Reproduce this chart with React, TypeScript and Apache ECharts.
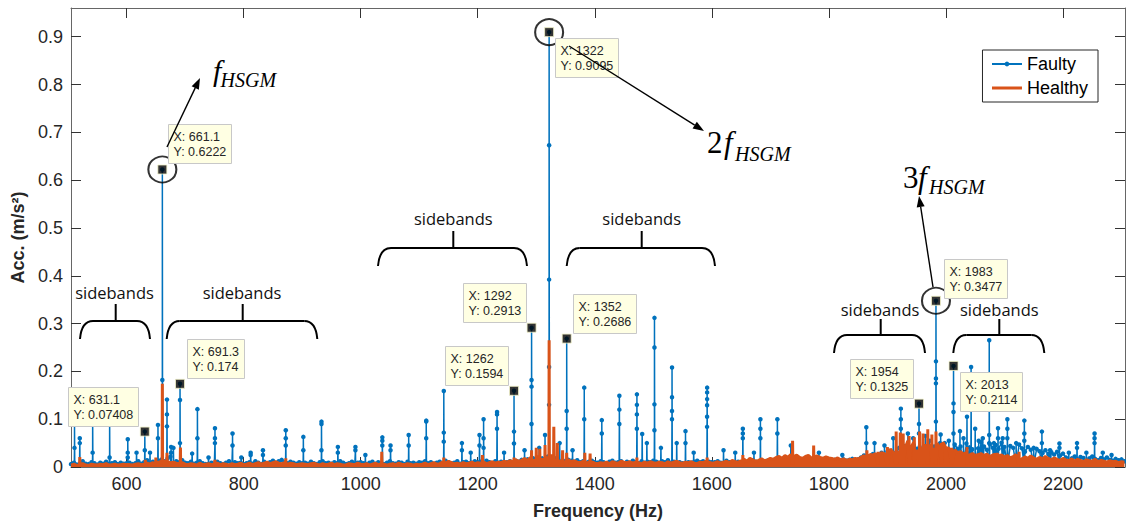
import React, { useEffect, useRef } from "react";
import * as echarts from "echarts";

const SANS = '"Liberation Sans", Arial, Helvetica, sans-serif';
const SERIF = '"Liberation Serif", "Times New Roman", serif';
const OPEN = '"Open Sans", "Liberation Sans", sans-serif';
const FAULTY = "#0072BD";
const HEALTHY = "#D95319";

const xMin = 505;
const xMax = 2306;
const yMin = 0;
const yMax = 0.96;
const xTicks = [600, 800, 1000, 1200, 1400, 1600, 1800, 2000, 2200];
const yTicks = [0, 0.1, 0.2, 0.3, 0.4, 0.5, 0.6, 0.7, 0.8, 0.9];
const seriesNames = ["Faulty", "Healthy"];

// noise floor, one value every 5 Hz from 505 Hz, in thousandths of m/s^2
const floorStartHz = 505;
const floorStepHz = 5;
const faultyFloor = [
  6, 9, 5, 8, 12, 7, 6, 10, 8, 5, 9, 7, 11, 6, 8, 10, 6, 9, 7, 8,
  9, 6, 8, 12, 7, 10, 14, 9, 11, 8, 13, 16, 12, 18, 22, 15, 12, 10, 14, 9,
  8, 11, 7, 9, 12, 8, 6, 10, 9, 7, 11, 8, 6, 9, 12, 7, 10, 8, 9, 6,
  8, 10, 7, 12, 9, 6, 11, 8, 10, 13, 9, 12, 15, 10, 8, 11, 9, 7, 10, 8,
  9, 7, 11, 8, 6, 10, 12, 8, 9, 7, 10, 8, 12, 9, 6, 8, 11, 7, 9, 10,
  8, 6, 9, 11, 7, 10, 8, 6, 9, 12, 8, 7, 10, 9, 6, 11, 8, 9, 7, 10,
  9, 12, 8, 10, 7, 9, 11, 8, 13, 10, 8, 9, 12, 7, 10, 11, 8, 9, 12, 10,
  11, 9, 13, 10, 8, 12, 9, 11, 14, 10, 12, 9, 13, 11, 15, 12, 16, 14, 18, 15,
  20, 18, 24, 22, 17, 15, 19, 16, 14, 12, 15, 13, 11, 14, 10, 12, 9, 11, 13, 10,
  9, 12, 10, 8, 11, 13, 9, 10, 12, 8, 11, 9, 13, 10, 8, 12, 9, 11, 10, 13,
  11, 9, 12, 10, 14, 9, 11, 13, 10, 8, 12, 10, 9, 11, 13, 10, 12, 9, 11, 10,
  10, 12, 9, 11, 13, 10, 8, 12, 11, 9, 13, 10, 12, 14, 11, 9, 12, 10, 13, 11,
  14, 12, 15, 13, 11, 14, 16, 12, 13, 15, 14, 12, 11, 14, 13, 15, 12, 14, 13, 11,
  13, 15, 12, 14, 16, 13, 15, 17, 14, 16, 20, 24, 19, 22, 27, 21, 25, 30, 26, 32,
  29, 35, 31, 40, 33, 44, 37, 32, 46, 38, 42, 35, 48, 40, 34, 43, 37, 50, 39, 36,
  40, 34, 47, 38, 43, 32, 49, 41, 37, 45, 39, 52, 43, 36, 48, 40, 46, 38, 51, 42,
  37, 44, 40, 35, 47, 39, 32, 42, 36, 30, 38, 33, 29, 35, 27, 31, 26, 32, 24, 28,
  20, 24, 18, 22, 16, 21, 19, 15, 18, 22, 17, 14, 19, 16, 20, 15, 13, 17, 14, 16,
  12,
];
const healthyFloor = [
  4, 6, 3, 5, 7, 4, 3, 6, 5, 4, 6, 5, 7, 4, 5, 6, 4, 5, 6, 5,
  5, 4, 6, 7, 5, 6, 8, 6, 9, 7, 10, 12, 14, 11, 9, 10, 8, 7, 9, 6,
  5, 7, 6, 4, 8, 5, 6, 7, 5, 6, 8, 5, 7, 6, 4, 7, 5, 6, 8, 5,
  6, 8, 5, 7, 9, 6, 8, 10, 7, 9, 11, 8, 7, 9, 6, 8, 7, 5, 6, 7,
  6, 5, 7, 8, 6, 4, 7, 5, 6, 8, 5, 7, 6, 4, 5, 7, 6, 5, 8, 6,
  5, 7, 4, 6, 8, 5, 7, 6, 4, 6, 7, 5, 8, 6, 5, 7, 6, 4, 6, 5,
  6, 8, 5, 7, 9, 6, 7, 10, 8, 12, 9, 7, 8, 6, 9, 7, 8, 10, 7, 9,
  8, 10, 7, 9, 11, 8, 10, 9, 12, 10, 13, 11, 15, 12, 14, 18, 13, 20, 16, 22,
  24, 18, 28, 22, 26, 20, 16, 14, 18, 12, 15, 11, 13, 10, 9, 12, 8, 10, 11, 8,
  7, 9, 8, 10, 7, 11, 9, 8, 12, 10, 9, 11, 8, 10, 9, 7, 10, 8, 11, 9,
  8, 10, 9, 7, 11, 8, 10, 12, 9, 8, 10, 9, 11, 8, 7, 10, 9, 12, 10, 8,
  9, 11, 8, 10, 12, 9, 14, 11, 10, 13, 16, 12, 18, 15, 12, 14, 17, 13, 15, 18,
  16, 20, 22, 18, 24, 20, 26, 22, 25, 20, 18, 22, 24, 19, 21, 23, 20, 18, 21, 19,
  18, 16, 19, 15, 17, 14, 16, 15, 18, 17, 20, 24, 22, 26, 25, 28, 24, 30, 28, 34,
  38, 30, 45, 34, 50, 38, 55, 40, 52, 36, 50, 42, 48, 35, 47, 40, 50, 36, 52, 40,
  40, 34, 36, 30, 32, 27, 30, 25, 28, 24, 26, 28, 24, 27, 22, 25, 27, 23, 25, 21,
  24, 19, 22, 26, 20, 17, 21, 18, 23, 19, 16, 20, 17, 22, 18, 15, 19, 16, 14, 18,
  15, 13, 17, 12, 16, 14, 11, 15, 13, 12, 16, 11, 14, 12, 10, 13, 11, 12, 9, 11,
  10,
];
const faultyStemBase = 0.006;
const healthyStemBase = 0.005;

// spectral lines: [frequency Hz, peak amplitude, lower bins along the stem...]
const faultyPeaks = [
  [511, 0.088, 0.04], [520, 0.06, 0.05], [542, 0.1, 0.03], [571, 0.102, 0.02],
  [602, 0.058, 0.03, 0.02], [617, 0.03], [631.1, 0.07408, 0.035], [640, 0.03],
  [653.6, 0.088, 0.06], [661.1, 0.6222, 0.182], [669, 0.141, 0.11, 0.085],
  [676, 0.042, 0.03], [680, 0.04], [691.3, 0.174, 0.14, 0.05], [712, 0.028],
  [721, 0.121, 0.06], [740, 0.02], [751, 0.081, 0.06, 0.05], [781, 0.07, 0.045],
  [796, 0.02], [812, 0.03, 0.025], [833, 0.035, 0.025], [872, 0.077, 0.06, 0.045],
  [902, 0.063, 0.035], [933, 0.095, 0.09, 0.035], [961, 0.042, 0.03],
  [991, 0.042, 0.035], [1008, 0.025], [1037, 0.062, 0.055, 0.045],
  [1051, 0.045, 0.035], [1082, 0.067, 0.045], [1112, 0.097, 0.095, 0.06],
  [1142, 0.159, 0.072, 0.053], [1173, 0.05, 0.035], [1188, 0.03],
  [1203, 0.067, 0.045], [1210, 0.1, 0.06, 0.04], [1233, 0.115, 0.11, 0.08],
  [1245, 0.03], [1262, 0.1594, 0.074, 0.049], [1280, 0.035],
  [1292, 0.2913, 0.182, 0.168, 0.09], [1305, 0.04], [1315, 0.067],
  [1322, 0.9095, 0.673, 0.392, 0.209, 0.13], [1340, 0.05],
  [1352, 0.2686, 0.117, 0.08], [1362, 0.035], [1382, 0.166, 0.1],
  [1412, 0.098, 0.07], [1442, 0.149, 0.12, 0.09], [1472, 0.152, 0.13, 0.11, 0.08],
  [1481, 0.069], [1489, 0.05], [1502, 0.312, 0.25, 0.131, 0.077], [1513, 0.04],
  [1532, 0.208, 0.146, 0.117, 0.1], [1540, 0.05], [1555, 0.075, 0.05], [1569, 0.03],
  [1592, 0.166, 0.156, 0.142, 0.129, 0.105, 0.084], [1620, 0.035], [1640, 0.03],
  [1653, 0.08, 0.07, 0.06], [1672, 0.03], [1683, 0.1, 0.08, 0.06],
  [1712, 0.1, 0.07], [1735, 0.045], [1783, 0.03], [1823, 0.025],
  [1864, 0.083, 0.05], [1878, 0.05], [1895, 0.045], [1910, 0.06],
  [1923, 0.122, 0.1, 0.08], [1935, 0.07], [1944, 0.06], [1954, 0.1325, 0.09, 0.07],
  [1965, 0.065], [1972, 0.055], [1983, 0.3477, 0.221, 0.185, 0.175, 0.095],
  [1991, 0.068], [1998, 0.05], [2005, 0.055], [2013, 0.2114, 0.133, 0.115, 0.07],
  [2024, 0.075], [2030, 0.06], [2036, 0.105], [2043, 0.209, 0.12], [2050, 0.08],
  [2056, 0.055], [2063, 0.06], [2074, 0.265, 0.067, 0.05], [2082, 0.05],
  [2089, 0.081, 0.06], [2097, 0.06], [2105, 0.1, 0.08, 0.06], [2120, 0.05],
  [2134, 0.097, 0.07, 0.055], [2150, 0.04], [2164, 0.074, 0.05], [2178, 0.035],
  [2194, 0.049, 0.04], [2210, 0.03], [2224, 0.05, 0.04], [2240, 0.03],
  [2254, 0.07, 0.06, 0.05], [2268, 0.03], [2283, 0.025],
];
const healthyPeaks = [
  [520, 0.021], [632, 0.015], [650, 0.02], [661.1, 0.174], [669, 0.03], [692, 0.041],
  [751, 0.015], [872, 0.018], [1036, 0.032], [1142, 0.02], [1208, 0.025],
  [1262, 0.02], [1292, 0.035], [1300, 0.04], [1306, 0.038], [1315, 0.046],
  [1322, 0.265], [1330, 0.084], [1336, 0.05], [1345, 0.035], [1352, 0.03],
  [1383, 0.03], [1392, 0.028], [1472, 0.02], [1592, 0.02], [1653, 0.025],
  [1738, 0.055], [1774, 0.045], [1865, 0.035], [1884, 0.032], [1900, 0.042],
  [1915, 0.074], [1922, 0.072], [1927, 0.07], [1937, 0.065], [1946, 0.062],
  [1955, 0.074], [1961, 0.07], [1969, 0.079], [1976, 0.068], [1983, 0.074],
  [1992, 0.05], [2010, 0.04], [2036, 0.042], [2088, 0.03], [2125, 0.032],
];

// data tips
const tipX = [631.1, 661.1, 691.3, 1262, 1292, 1322, 1352, 1954, 1983, 2013];
const tipY = [0.07408, 0.6222, 0.174, 0.1594, 0.2913, 0.9095, 0.2686, 0.1325, 0.3477, 0.2114];
const circledX = [661.1, 1322, 1983];
const circledY = [0.6222, 0.9095, 0.3477];

// layout of the tip boxes (side: r/l, u/d; gaps in px)
const tipLayout = [
  { side: "lu", gx: 7, gy: 6 },
  { side: "ru", gx: 6, gy: 7 },
  { side: "ru", gx: 7, gy: 6 },
  { side: "lu", gx: 6, gy: 6 },
  { side: "lu", gx: 6, gy: 6 },
  { side: "rd", gx: 6, gy: 6 },
  { side: "ru", gx: 6, gy: 6 },
  { side: "lu", gx: 6, gy: 6 },
  { side: "ru", gx: 8, gy: 3 },
  { side: "rd", gx: 6, gy: 6 },
];

function buildSpectrum(floor: number[], peaks: number[][], base: number) {
  const pts: number[][] = [];
  floor.forEach((v, i) => {
    const f = floorStartHz + i * floorStepHz;
    if (peaks.some((p) => Math.abs(p[0] - f) < 0.8)) return;
    pts.push([f, v / 1000]);
  });
  peaks.forEach((p) => {
    const [f, a, ...mids] = p;
    const m = [...mids].sort((u, w) => u - w);
    pts.push([f - 0.4, base]);
    m.forEach((v, k) => pts.push([f - 0.03 * (m.length - k), v]));
    pts.push([f, a]);
    pts.push([f + 0.4, base]);
  });
  pts.sort((a, b) => a[0] - b[0]);
  return pts;
}

function arrow(x1: number, y1: number, x2: number, y2: number) {
  const ang = Math.atan2(y2 - y1, x2 - x1);
  const L = 11;
  const W = 4;
  const bx = x2 - L * Math.cos(ang);
  const by = y2 - L * Math.sin(ang);
  const nx = -Math.sin(ang);
  const ny = Math.cos(ang);
  return [
    { type: "line", z: 120, shape: { x1, y1, x2: bx, y2: by }, style: { stroke: "#000", lineWidth: 1.4 } },
    {
      type: "polygon",
      z: 120,
      shape: { points: [[x2, y2], [bx + nx * W, by + ny * W], [bx - nx * W, by - ny * W]] },
      style: { fill: "#000" },
    },
  ];
}

function brace(xL: number, xR: number, yt: number, yb: number, xm: number, tickTop: number) {
  const r = 13;
  const st = { stroke: "#000", lineWidth: 2, fill: null };
  return [
    { type: "bezierCurve", z: 110, shape: { x1: xL, y1: yb, x2: xL + r, y2: yt, cpx1: xL + 1.5, cpy1: yt }, style: st },
    { type: "line", z: 110, shape: { x1: xL + r, y1: yt, x2: xR - r, y2: yt }, style: st },
    { type: "bezierCurve", z: 110, shape: { x1: xR - r, y1: yt, x2: xR, y2: yb, cpx1: xR - 1.5, cpy1: yt }, style: st },
    { type: "line", z: 110, shape: { x1: xm, y1: tickTop, x2: xm, y2: yt }, style: st },
  ];
}

function sideText(cx: number, cy: number) {
  return {
    type: "text",
    z: 110,
    x: cx,
    y: cy,
    style: { text: "sidebands", fontSize: 16.5, fontFamily: OPEN, fill: "#111", align: "center", verticalAlign: "middle" },
  };
}

function harmonic(num: string, nx: number, fx: number, base: number, subX: number, subBase: number, big: number) {
  const els: any[] = [];
  if (num) {
    els.push({
      type: "text", z: 110, x: nx, y: base - 0.31 * big,
      style: { text: num, fontSize: big, fontFamily: SERIF, fill: "#000", align: "left", verticalAlign: "middle" },
    });
  }
  els.push({
    type: "text", z: 110, x: fx, y: base - 0.31 * big,
    style: { text: "f", fontSize: big, fontStyle: "italic", fontFamily: SERIF, fill: "#000", align: "left", verticalAlign: "middle" },
  });
  els.push({
    type: "text", z: 110, x: subX, y: subBase - 0.31 * 20,
    style: { text: "HSGM", fontSize: 20, fontStyle: "italic", fontFamily: SERIF, fill: "#000", align: "left", verticalAlign: "middle" },
  });
  return els;
}

export default function App() {
  const ref = useRef<HTMLDivElement>(null);

  useEffect(() => {
    if (!ref.current) return;
    const chart = echarts.init(ref.current, undefined, { renderer: "svg" });
    const axisColor = "#666";
    const tickColor = "#333";
    const labelColor = "#262626";

    const faultyData = buildSpectrum(faultyFloor, faultyPeaks, faultyStemBase);
    const healthyData = buildSpectrum(healthyFloor, healthyPeaks, healthyStemBase);

    chart.setOption({
      animation: false,
      backgroundColor: "#fff",
      grid: { left: 71, right: 1, top: 8, bottom: 58, containLabel: false },
      legend: {
        data: [
          { name: seriesNames[0] },
          { name: seriesNames[1], itemStyle: { color: "rgba(0,0,0,0)", borderWidth: 0 }, lineStyle: { width: 3 } },
        ],
        orient: "vertical",
        right: 28,
        top: 50,
        itemWidth: 30,
        itemHeight: 6,
        itemGap: 6,
        padding: [5, 10, 5, 8],
        backgroundColor: "#fff",
        borderColor: "#262626",
        borderWidth: 1,
        selectedMode: false,
        textStyle: { fontSize: 18, fontFamily: SANS, color: "#000" },
      },
      xAxis: [
        {
          type: "value",
          min: xMin,
          max: xMax,
          position: "bottom",
          axisLine: { show: true, onZero: false, lineStyle: { color: axisColor, width: 1 } },
          axisTick: { show: true, inside: true, length: 10, customValues: xTicks, lineStyle: { color: tickColor } },
          axisLabel: {
            customValues: xTicks,
            fontSize: 18,
            fontFamily: SANS,
            color: labelColor,
            margin: 8,
            formatter: (v: number) => String(v),
          },
          splitLine: { show: false },
          name: "Frequency (Hz)",
          nameLocation: "middle",
          nameGap: 35,
          nameTextStyle: { fontSize: 18, fontWeight: "bold", fontFamily: SANS, color: labelColor },
        },
        {
          type: "value",
          min: xMin,
          max: xMax,
          position: "top",
          axisLine: { show: true, onZero: false, lineStyle: { color: axisColor, width: 1 } },
          axisTick: { show: true, inside: true, length: 10, customValues: xTicks, lineStyle: { color: tickColor } },
          axisLabel: { show: false },
          splitLine: { show: false },
        },
      ],
      yAxis: [
        {
          type: "value",
          min: yMin,
          max: yMax,
          position: "left",
          axisLine: { show: true, onZero: false, lineStyle: { color: axisColor, width: 1 } },
          axisTick: { show: true, inside: true, length: 10, customValues: yTicks, lineStyle: { color: tickColor } },
          axisLabel: {
            customValues: yTicks,
            fontSize: 18,
            fontFamily: SANS,
            color: labelColor,
            margin: 8,
            formatter: (v: number) => String(Math.round(v * 10) / 10),
          },
          splitLine: { show: false },
          name: "Acc. (m/s²)",
          nameLocation: "middle",
          nameGap: 39,
          nameRotate: 90,
          nameTextStyle: { fontSize: 18, fontWeight: "bold", fontFamily: SANS, color: labelColor },
        },
        {
          type: "value",
          min: yMin,
          max: yMax,
          position: "right",
          axisLine: { show: true, onZero: false, lineStyle: { color: axisColor, width: 1 } },
          axisTick: { show: true, inside: true, length: 10, customValues: yTicks, lineStyle: { color: tickColor } },
          axisLabel: { show: false },
          splitLine: { show: false },
        },
      ],
      series: [
        {
          name: seriesNames[0],
          type: "line",
          xAxisIndex: 0,
          yAxisIndex: 0,
          data: faultyData,
          symbol: "circle",
          symbolSize: 4.5,
          showSymbol: true,
          lineStyle: { width: 1.5, color: FAULTY },
          itemStyle: { color: FAULTY },
          z: 2,
          silent: true,
        },
        {
          name: seriesNames[1],
          type: "line",
          xAxisIndex: 0,
          yAxisIndex: 0,
          data: healthyData,
          symbol: "none",
          showSymbol: false,
          lineStyle: { width: 3, color: HEALTHY },
          itemStyle: { color: HEALTHY },
          areaStyle: { color: HEALTHY, opacity: 1 },
          z: 3,
          silent: true,
        },
        {
          name: "tips",
          type: "scatter",
          xAxisIndex: 0,
          yAxisIndex: 0,
          data: tipX.map((x, i) => [x, tipY[i]]),
          symbol: "rect",
          symbolSize: 9,
          itemStyle: { color: "#000", borderColor: "#F2F2C8", borderWidth: 1 },
          z: 5,
          silent: true,
        },
        {
          name: "circles",
          type: "scatter",
          xAxisIndex: 0,
          yAxisIndex: 0,
          data: circledX.map((x, i) => [x, circledY[i]]),
          symbol: "circle",
          symbolSize: [28, 26],
          itemStyle: { color: "rgba(0,0,0,0)", borderColor: "#000", borderWidth: 2 },
          z: 6,
          silent: true,
        },
      ],
    });

    const ctx = document.createElement("canvas").getContext("2d");
    if (ctx) ctx.font = '12.5px "Liberation Sans"';
    const graphics: any[] = [];
    tipX.forEach((x, i) => {
      const p = chart.convertToPixel({ gridIndex: 0 }, [x, tipY[i]]) as number[];
      const l1 = `X: ${x}`;
      const l2 = `Y: ${tipY[i]}`;
      const tw = ctx ? Math.max(ctx.measureText(l1).width, ctx.measureText(l2).width) : 56;
      const w = Math.round(tw + 10);
      const h = 39;
      const lay = tipLayout[i];
      const left = lay.side[0] === "r" ? p[0] + lay.gx : p[0] - lay.gx - w;
      const top = lay.side[1] === "u" ? p[1] - lay.gy - h : p[1] + lay.gy;
      graphics.push({
        type: "group",
        x: Math.round(left),
        y: Math.round(top),
        z: 100,
        children: [
          { type: "rect", z: 100, shape: { x: 0.5, y: 0.5, width: w, height: h }, style: { fill: "#FFFFE3", stroke: "#C8C8C8", lineWidth: 1 } },
          {
            type: "text",
            z: 101,
            x: 5.5,
            y: 5.5,
            style: { text: l1 + "\n" + l2, fontSize: 12.5, fontFamily: SANS, fill: "#262626", lineHeight: 15, align: "left", verticalAlign: "top" },
          },
        ],
      });
    });

    graphics.push(...arrow(167, 147, 200, 78));
    graphics.push(...arrow(569, 46, 704, 131));
    graphics.push(...arrow(933, 287, 919, 196));

    graphics.push(...harmonic("", 0, 213, 80, 220.5, 86, 30));
    graphics.push(...harmonic("2", 707, 724, 152, 735, 160, 31));
    graphics.push(...harmonic("3", 903, 918, 187, 929, 193, 31));

    graphics.push(...brace(80, 150, 321, 339, 115.7, 304));
    graphics.push(...brace(166.7, 317.3, 321, 339, 242.7, 304));
    graphics.push(...brace(378, 527, 248, 266, 453.3, 231));
    graphics.push(...brace(566.7, 715, 248, 266, 641.7, 231));
    graphics.push(...brace(834, 925, 335, 353, 880.7, 319));
    graphics.push(...brace(953.3, 1044.3, 335, 353, 999.3, 319));

    graphics.push(sideText(114.5, 292));
    graphics.push(sideText(242, 292));
    graphics.push(sideText(453.3, 218.6));
    graphics.push(sideText(641.7, 218.6));
    graphics.push(sideText(880, 309.6));
    graphics.push(sideText(999.3, 309.6));

    chart.setOption({ graphic: { elements: graphics } });

    return () => chart.dispose();
  }, []);

  return (
    <div
      ref={ref}
      style={{ position: "fixed", left: 0, top: 0, width: 1126, height: 525, background: "#fff" }}
    />
  );
}
